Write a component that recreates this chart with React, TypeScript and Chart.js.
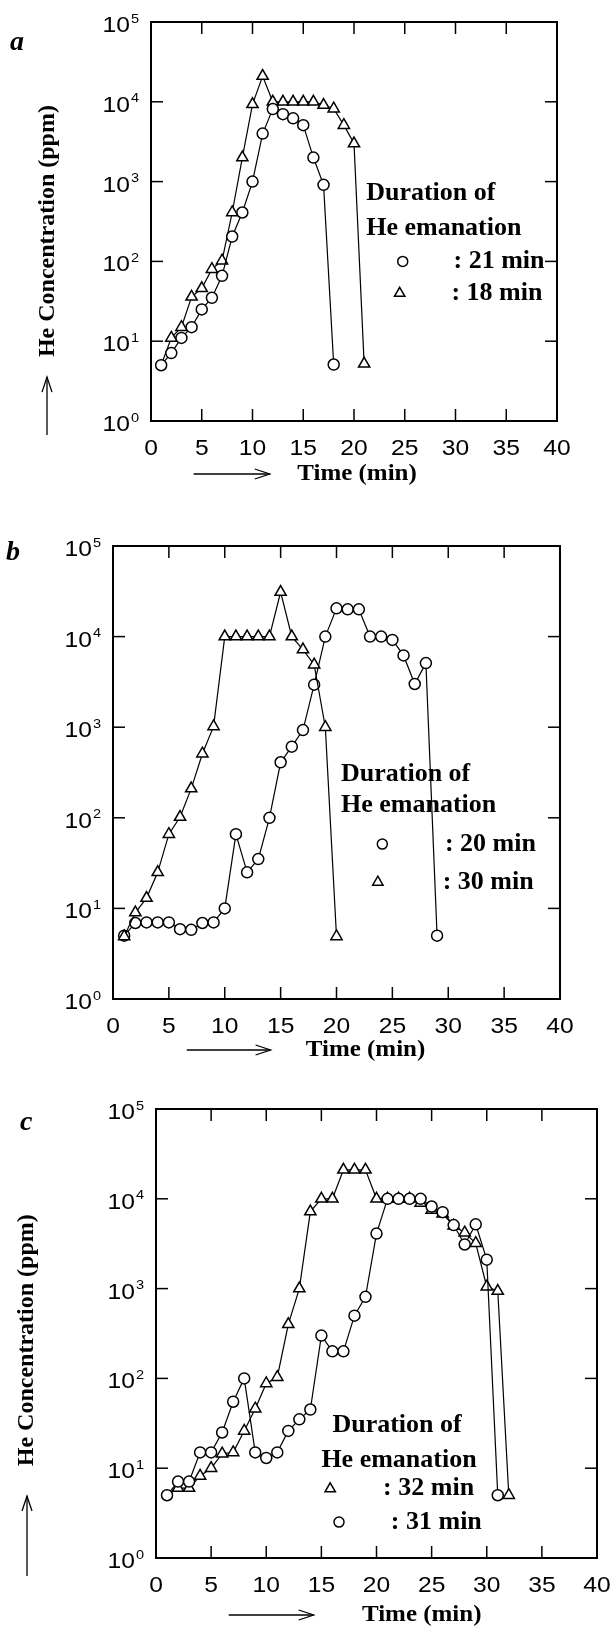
import React, { useEffect, useRef } from "react";
import { Chart, registerables } from "chart.js";

Chart.register(...registerables);

// ---------------- data ----------------
const xTicks = [0, 5, 10, 15, 20, 25, 30, 35, 40];
const yTicks = [1, 10, 100, 1000, 10000, 100000];
const yTickExponents = ["0", "1", "2", "3", "4", "5"];

// panel a
const aCircleTime = [1, 2, 3, 4, 5, 6, 7, 8, 9, 10, 11, 12, 13, 14, 15, 16, 17, 18];
const aCircleConc = [5, 7.1, 11, 15, 25, 35, 66, 205, 410, 1000, 4000, 8100, 7000, 6200, 5100, 2000, 910, 5.1];
const aTriTime = [1, 2, 3, 4, 5, 6, 7, 8, 9, 10, 11, 12, 13, 14, 15, 16, 17, 18, 19, 20, 21];
const aTriConc = [5, 11, 15, 36, 46, 80, 102, 410, 2000, 9300, 21000, 10000, 10000, 10000, 10000, 10000, 9100, 8200, 5100, 3000, 5.2];

// panel b
const bCircleTime = [1, 2, 3, 4, 5, 6, 7, 8, 9, 10, 11, 12, 13, 14, 15, 16, 17, 18, 19, 20, 21, 22, 23, 24, 25, 26, 27, 28, 29];
const bCircleConc = [5, 6.9, 7, 7, 7, 5.9, 5.8, 6.9, 7, 10, 66, 25, 35, 100, 410, 610, 930, 2950, 10000, 20500, 20000, 20000, 10000, 10000, 9200, 6200, 3000, 5100, 5];
const bTriTime = [1, 2, 3, 4, 5, 6, 7, 8, 9, 10, 11, 12, 13, 14, 15, 16, 17, 18, 19, 20];
const bTriConc = [4.9, 9, 13, 25, 66, 102, 210, 510, 1020, 10000, 10000, 10000, 10000, 10000, 31000, 10000, 7200, 4900, 1000, 4.9];

// panel c
const cTriTime = [1, 2, 3, 4, 5, 6, 7, 8, 9, 10, 11, 12, 13, 14, 15, 16, 17, 18, 19, 20, 21, 22, 23, 24, 25, 26, 27, 28, 29, 30, 31, 32];
const cTriConc = [5, 6, 6, 8.2, 10, 14.5, 15, 26, 46, 88, 103, 400, 1000, 7200, 10000, 10000, 21000, 21000, 21000, 10000, 10000, 10000, 10000, 9000, 7500, 6800, 5000, 4200, 3200, 1050, 940, 5];
const cCircleTime = [1, 2, 3, 4, 5, 6, 7, 8, 9, 10, 11, 12, 13, 14, 15, 16, 17, 18, 19, 20, 21, 22, 23, 24, 25, 26, 27, 28, 29, 30, 31];
const cCircleConc = [5, 7.1, 7.1, 15, 15, 25, 55, 100, 15, 13, 15, 26, 35, 45, 300, 200, 200, 500, 810, 4100, 10000, 10000, 10000, 10000, 8200, 7100, 5100, 3100, 5200, 2100, 5];

const legendHeadLines = ["Duration of", "He emanation"];
const xAxisTitle = "Time (min)";
const yAxisTitle = "He Concentration (ppm)";

// ---------------- layout / style ----------------
const SANS = '"Liberation Sans", Arial, sans-serif';
const SERIF = '"Liberation Serif", "Times New Roman", serif';
const X_MIN = 0, X_MAX = 40, Y_MIN = 1, Y_MAX = 100000;
const TICK_SX = 1.12; // horizontal stretch of tick labels
const TITLE_SX = 1.04;

type Style = "circle" | "triangle";
type Series = { label: string; time: number[]; conc: number[]; style: Style; hideFirst?: boolean };
type LegendRow = { style: Style; mx: number; my: number; text: string; tx: number };
type Panel = {
  letter: string;
  letterX: number;
  letterDy: number;
  canvasTop: number;
  canvasHeight: number;
  left: number; right: number; top: number; bottom: number;
  series: Series[];
  headX: number[]; headY: number[];
  rows: LegendRow[];
  titleX: number; titleDy: number; arrowFrom: number; arrowTo: number;
  yTitle?: { x: number; center: number; arrowX: number; arrowBottom: number; arrowTop: number };
};

const panels: Panel[] = [
  {
    letter: "a", letterX: 10, letterDy: 21,
    canvasTop: 0, canvasHeight: 515,
    left: 151, right: 557, top: 22, bottom: 421,
    series: [
      { label: "21 min", time: aCircleTime, conc: aCircleConc, style: "circle" },
      { label: "18 min", time: aTriTime, conc: aTriConc, style: "triangle", hideFirst: true },
    ],
    headX: [21.2, 21.2], headY: [Math.pow(10, 2.85), Math.pow(10, 2.41)],
    rows: [
      { style: "circle", mx: 24.8, my: Math.pow(10, 2.0), text: ": 21 min", tx: 29.8 },
      { style: "triangle", mx: 24.5, my: Math.pow(10, 1.6), text: ": 18 min", tx: 29.6 },
    ],
    titleX: 20.3, titleDy: 53, arrowFrom: 4.2, arrowTo: 11.7,
    yTitle: { x: 48, center: 0.524, arrowX: 47, arrowBottom: 1.035, arrowTop: 0.89 },
  },
  {
    letter: "b", letterX: 6, letterDy: 7,
    canvasTop: 515, canvasHeight: 570,
    left: 113, right: 560, top: 546, bottom: 999,
    series: [
      { label: "30 min", time: bTriTime, conc: bTriConc, style: "triangle" },
      { label: "20 min", time: bCircleTime, conc: bCircleConc, style: "circle" },
    ],
    headX: [20.4, 20.4], headY: [Math.pow(10, 2.48), Math.pow(10, 2.13)],
    rows: [
      { style: "circle", mx: 24.1, my: Math.pow(10, 1.71), text: ": 20 min", tx: 29.7 },
      { style: "triangle", mx: 23.7, my: Math.pow(10, 1.29), text: ": 30 min", tx: 29.5 },
    ],
    titleX: 22.6, titleDy: 51, arrowFrom: 6.6, arrowTo: 14.1,
  },
  {
    letter: "c", letterX: 20, letterDy: 14,
    canvasTop: 1085, canvasHeight: 555,
    left: 156, right: 597, top: 1109, bottom: 1558,
    series: [
      { label: "31 min", time: cCircleTime, conc: cCircleConc, style: "circle" },
      { label: "32 min", time: cTriTime, conc: cTriConc, style: "triangle", hideFirst: true },
    ],
    headX: [16.0, 15.0], headY: [Math.pow(10, 1.48), Math.pow(10, 1.09)],
    rows: [
      { style: "triangle", mx: 15.8, my: Math.pow(10, 0.77), text: ": 32 min", tx: 20.6 },
      { style: "circle", mx: 16.6, my: Math.pow(10, 0.4), text: ": 31 min", tx: 21.3 },
    ],
    titleX: 24.1, titleDy: 57, arrowFrom: 6.6, arrowTo: 14.3,
    yTitle: { x: 27, center: 0.515, arrowX: 27, arrowBottom: 1.04, arrowTop: 0.862 },
  },
];

function drawMarker(ctx: CanvasRenderingContext2D, style: Style, x: number, y: number, r: number) {
  ctx.beginPath();
  if (style === "circle") {
    ctx.arc(x, y, r, 0, Math.PI * 2);
  } else {
    ctx.moveTo(x, y - r);
    ctx.lineTo(x + r * 0.866, y + r * 0.5);
    ctx.lineTo(x - r * 0.866, y + r * 0.5);
    ctx.closePath();
  }
  ctx.fillStyle = "#fff";
  ctx.fill();
  ctx.stroke();
}

function stretchText(
  ctx: CanvasRenderingContext2D,
  s: string,
  x: number,
  y: number,
  sx: number,
  align: CanvasTextAlign
) {
  ctx.save();
  ctx.translate(x, y);
  ctx.scale(sx, 1);
  ctx.textAlign = align;
  ctx.fillText(s, 0, 0);
  ctx.restore();
}

function makeDecor(p: Panel) {
  return {
    id: "decor_" + p.letter,
    afterDraw(chart: any) {
      const ctx: CanvasRenderingContext2D = chart.ctx;
      const a = chart.chartArea;
      const xs = chart.scales.x;
      const ys = chart.scales.y;
      const H = a.bottom - a.top;
      const seg = (x1: number, y1: number, x2: number, y2: number) => {
        ctx.beginPath();
        ctx.moveTo(x1, y1);
        ctx.lineTo(x2, y2);
        ctx.stroke();
      };
      ctx.save();
      ctx.strokeStyle = "#000";
      ctx.fillStyle = "#000";
      ctx.lineCap = "butt";

      // frame
      ctx.lineWidth = 2;
      ctx.strokeRect(a.left, a.top, a.right - a.left, a.bottom - a.top);

      // inward ticks
      ctx.lineWidth = 1.5;
      const tl = 12;
      xTicks.forEach((t) => {
        if (t === X_MIN || t === X_MAX) return;
        const px = xs.getPixelForValue(t);
        seg(px, a.bottom, px, a.bottom - tl);
        seg(px, a.top, px, a.top + tl);
      });
      yTicks.forEach((v) => {
        if (v === Y_MIN || v === Y_MAX) return;
        const py = ys.getPixelForValue(v);
        seg(a.left, py, a.left + tl, py);
        seg(a.right, py, a.right - tl, py);
      });

      // x tick labels
      ctx.fillStyle = "#000";
      ctx.font = `22px ${SANS}`;
      ctx.textBaseline = "middle";
      xTicks.forEach((t) => {
        stretchText(ctx, String(t), xs.getPixelForValue(t), a.bottom + 28, TICK_SX, "center");
      });

      // y tick labels: 10^n
      ctx.textBaseline = "alphabetic";
      yTicks.forEach((v, i) => {
        const py = ys.getPixelForValue(v);
        const exp = yTickExponents[i];
        ctx.font = `13px ${SANS}`;
        const we = ctx.measureText(exp).width * TICK_SX;
        const right = a.left - 12;
        ctx.font = `22px ${SANS}`;
        stretchText(ctx, "10", right - we - 1, py + 10, TICK_SX, "right");
        ctx.font = `13px ${SANS}`;
        stretchText(ctx, exp, right - we, py + 0.5, TICK_SX, "left");
      });

      // x axis title + arrow
      const ty = a.bottom + p.titleDy;
      ctx.font = `bold 24px ${SERIF}`;
      ctx.textBaseline = "middle";
      stretchText(ctx, xAxisTitle, xs.getPixelForValue(p.titleX), ty, TITLE_SX, "center");
      ctx.lineWidth = 1.3;
      const ax1 = xs.getPixelForValue(p.arrowFrom);
      const ax2 = xs.getPixelForValue(p.arrowTo);
      seg(ax1, ty, ax2, ty);
      ctx.beginPath();
      ctx.moveTo(ax2 - 15, ty - 5);
      ctx.lineTo(ax2, ty);
      ctx.lineTo(ax2 - 15, ty + 5);
      ctx.stroke();

      // y axis title + arrow
      if (p.yTitle) {
        const yt = p.yTitle;
        ctx.save();
        ctx.translate(yt.x, a.top + yt.center * H);
        ctx.rotate(-Math.PI / 2);
        ctx.font = `bold 24px ${SERIF}`;
        ctx.textAlign = "center";
        ctx.textBaseline = "middle";
        ctx.fillText(yAxisTitle, 0, 0);
        ctx.restore();
        const yb = a.top + yt.arrowBottom * H;
        const yh = a.top + yt.arrowTop * H;
        ctx.lineWidth = 1.3;
        seg(yt.arrowX, yb, yt.arrowX, yh);
        ctx.beginPath();
        ctx.moveTo(yt.arrowX - 5, yh + 15);
        ctx.lineTo(yt.arrowX, yh);
        ctx.lineTo(yt.arrowX + 5, yh + 15);
        ctx.stroke();
      }

      // panel letter
      ctx.font = `italic bold 28px ${SERIF}`;
      ctx.textBaseline = "middle";
      stretchText(ctx, p.letter, p.letterX, a.top + p.letterDy, 1, "left");

      // legend
      ctx.font = `bold 25px ${SERIF}`;
      ctx.textBaseline = "middle";
      legendHeadLines.forEach((line, i) => {
        stretchText(ctx, line, xs.getPixelForValue(p.headX[i]), ys.getPixelForValue(p.headY[i]), TITLE_SX, "left");
      });
      p.rows.forEach((r) => {
        const my = ys.getPixelForValue(r.my);
        ctx.lineWidth = 1.5;
        ctx.strokeStyle = "#000";
        drawMarker(ctx, r.style, xs.getPixelForValue(r.mx), my, r.style === "circle" ? 5 : 6);
        ctx.fillStyle = "#000";
        stretchText(ctx, r.text, xs.getPixelForValue(r.tx), my, TITLE_SX, "left");
      });

      ctx.restore();
    },
  };
}

function PanelChart({ p }: { p: Panel }) {
  const ref = useRef<HTMLCanvasElement | null>(null);
  useEffect(() => {
    if (!ref.current) return;
    const chart = new Chart(ref.current, {
      type: "line",
      data: {
        datasets: p.series.map((s) => ({
          label: s.label,
          data: s.time.map((t, i) => ({ x: t, y: s.conc[i] })),
          borderColor: "#000",
          borderWidth: 1.2,
          backgroundColor: "#fff",
          pointStyle: s.style,
          pointRadius: (c: any) => (s.hideFirst && c.dataIndex === 0 ? 0 : s.style === "circle" ? 5.5 : 6.5),
          pointBorderWidth: 1.5,
          pointBackgroundColor: "#fff",
          pointBorderColor: "#000",
          tension: 0,
          fill: false,
          clip: 10,
        })),
      },
      options: {
        animation: false,
        responsive: false,
        maintainAspectRatio: false,
        events: [],
        layout: {
          padding: {
            left: p.left,
            right: 612 - p.right,
            top: p.top - p.canvasTop,
            bottom: p.canvasTop + p.canvasHeight - p.bottom,
          },
        },
        plugins: { legend: { display: false }, tooltip: { enabled: false }, title: { display: false } },
        scales: {
          x: { type: "linear", min: X_MIN, max: X_MAX, display: false },
          y: { type: "logarithmic", min: Y_MIN, max: Y_MAX, display: false },
        },
      } as any,
      plugins: [makeDecor(p)],
    });
    return () => chart.destroy();
  }, [p]);
  return (
    <canvas
      ref={ref}
      width={612}
      height={p.canvasHeight}
      style={{ position: "absolute", left: 0, top: p.canvasTop, width: 612, height: p.canvasHeight }}
    />
  );
}

export default function App() {
  return (
    <div style={{ position: "absolute", left: 0, top: 0, width: 612, height: 1640, background: "#fff", overflow: "hidden" }}>
      {panels.map((p) => (
        <PanelChart key={p.letter} p={p} />
      ))}
    </div>
  );
}
